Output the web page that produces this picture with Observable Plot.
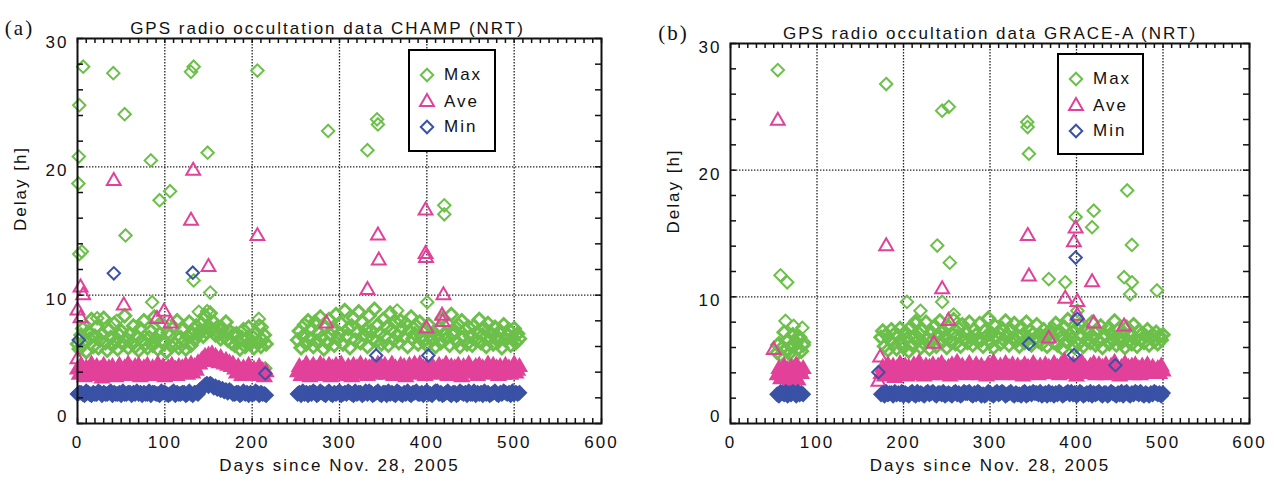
<!DOCTYPE html>
<html><head><meta charset="utf-8">
<script src="https://cdn.jsdelivr.net/npm/d3@7"></script>
<script src="https://cdn.jsdelivr.net/npm/@observablehq/plot@0.6"></script>
<style>
body{margin:0;background:#fff;}
#wrap{position:relative;width:1274px;height:482px;overflow:hidden;}
.panel{position:absolute;top:0;}
.legend{position:absolute;background:#fff;border:2px solid #000;box-sizing:border-box;font-family:"Liberation Sans",Arial,sans-serif;font-size:17px;letter-spacing:2px;color:#111;}
.legend .lab{position:absolute;line-height:20px;}
.legend svg{position:absolute;overflow:visible;}
</style></head>
<body><div id="wrap"></div>
<script>
// ---------- data ----------
const xTicks = [0,100,200,300,400,500,600];
const yTicks = [0,10,20,30];
const seriesNames = ["Max","Ave","Min"];

// Panel (a) CHAMP: daily statistics, every 2nd day
const daysA1 = d3.range(0, 217, 2);
const maxA1 = [6.2,5.8,6.9,7.4,6.4,5.6,7.1,6.6,8.1,6.0,
6.8,7.5,5.9,6.5,7.0,8.2,6.3,5.7,7.3,6.7,
6.1,7.8,6.4,5.8,6.9,7.2,6.2,8.4,6.6,5.9,
7.0,6.3,7.6,6.0,6.8,5.7,7.4,6.5,8.0,6.2,
5.9,6.7,7.2,6.1,8.3,6.6,5.8,7.0,6.4,7.7,
6.3,5.6,7.1,6.9,6.0,7.5,6.2,8.0,5.9,6.7,
7.3,6.4,5.8,6.8,7.9,6.1,7.0,6.5,7.6,6.9,
7.2,7.8,6.8,8.4,7.1,7.6,8.6,7.3,7.9,6.9,
7.5,7.0,6.6,7.4,6.8,7.9,6.5,7.2,6.3,6.9,
6.1,7.0,6.4,5.8,6.7,7.3,6.0,6.6,7.5,6.2,
6.8,5.9,7.1,6.3,7.6,6.0,6.5,6.9,6.2];
const aveA1 = [4.2,3.8,4.5,4.0,3.6,4.3,4.1,3.9,4.6,3.7,
4.0,4.4,3.8,4.2,3.5,4.5,4.1,3.9,4.3,3.7,
4.4,4.0,3.6,4.2,4.5,3.8,4.1,4.3,3.9,4.6,
3.7,4.2,4.0,4.4,3.8,4.5,3.6,4.1,4.3,3.9,
4.5,4.0,3.7,4.3,4.1,3.8,4.6,4.2,3.9,4.4,
3.6,4.1,4.3,3.8,4.5,4.0,4.2,3.7,4.4,3.9,
4.3,4.0,4.5,3.8,4.2,4.6,3.9,4.4,4.1,4.7,
4.6,4.9,5.0,5.2,4.8,5.3,5.1,5.4,4.9,5.2,
5.0,4.7,5.1,4.8,4.6,4.9,4.5,4.7,4.4,4.6,
4.2,3.9,4.4,4.1,3.7,4.3,4.0,3.8,4.5,4.1,
3.8,4.2,4.0,3.7,4.4,3.9,4.1,3.6,4.0];
const minA1 = [2.3,2.4,2.4,2.3,2.2,2.5,2.4,2.3,2.2,2.4,
2.3,2.3,2.5,2.4,2.2,2.4,2.3,2.3,2.4,2.5,
2.2,2.4,2.3,2.3,2.4,2.2,2.5,2.3,2.3,2.4,
2.4,2.2,2.4,2.3,2.5,2.3,2.4,2.2,2.4,2.3,
2.3,2.5,2.2,2.4,2.4,2.3,2.3,2.2,2.5,2.4,
2.4,2.3,2.2,2.3,2.4,2.5,2.2,2.4,2.3,2.3,
2.4,2.4,2.2,2.3,2.5,2.3,2.2,2.4,2.4,2.3,
2.6,2.7,2.8,3.0,3.1,2.9,3.1,3.0,2.8,2.9,
2.7,2.8,2.6,2.7,2.5,2.6,2.4,2.6,2.5,2.3,
2.3,2.4,2.4,2.2,2.3,2.5,2.3,2.4,2.2,2.4,
2.3,2.3,2.5,2.4,2.2,2.4,2.3,2.3,2.2];
const daysA2 = d3.range(252, 507, 2);
const maxA2 = [6.5,7.2,5.9,6.8,7.7,6.2,8.0,6.6,7.4,6.0,
7.9,6.4,7.1,8.3,6.7,5.8,7.5,6.3,8.1,6.9,
7.3,6.1,8.5,6.6,7.0,7.8,6.2,8.8,6.8,7.4,
5.9,7.6,8.2,6.5,7.1,8.7,6.3,7.9,6.9,7.3,
6.0,8.4,7.2,6.6,8.9,6.4,7.7,7.0,6.2,8.1,
6.8,7.5,6.1,8.6,7.3,6.5,7.9,6.9,6.3,8.0,
7.4,6.7,7.8,6.0,7.2,8.3,6.6,7.0,7.6,6.2,
7.9,6.8,6.4,7.3,6.1,7.7,6.9,6.5,7.1,6.0,
6.8,7.4,6.3,8.2,7.0,6.6,7.8,6.1,8.5,6.9,
7.2,6.4,7.7,6.0,8.0,6.7,7.3,6.2,7.5,6.8,
6.1,7.6,6.5,7.1,8.1,6.3,6.9,7.4,6.0,7.8,
6.6,7.0,6.2,7.5,6.8,6.4,7.2,5.9,7.7,6.5,
6.9,7.3,6.1,6.7,7.4,6.3,7.0,6.6];
const aveA2 = [4.0,4.4,3.7,4.2,3.9,4.6,4.1,3.6,4.3,4.5,
3.8,4.2,4.0,4.6,3.7,4.4,4.1,3.9,4.5,3.6,
4.3,4.0,4.5,3.8,4.2,4.6,3.9,4.1,3.7,4.4,
4.2,3.6,4.5,4.0,4.3,3.8,4.6,4.1,3.9,4.4,
3.7,4.3,4.0,4.5,3.8,4.2,4.6,3.9,4.4,4.1,
4.5,3.8,4.2,4.0,4.6,3.7,4.3,4.1,3.9,4.5,
4.0,4.4,3.6,4.2,4.5,3.9,4.1,4.6,3.8,4.3,
4.6,4.0,4.3,3.7,4.4,4.1,3.9,4.5,4.2,3.8,
4.1,4.5,3.9,4.3,4.0,4.6,3.7,4.2,4.4,3.9,
4.3,3.8,4.5,4.1,3.6,4.4,4.2,3.9,4.6,4.0,
3.9,4.2,4.4,3.7,4.5,4.0,4.3,3.8,4.1,4.6,
4.2,3.9,4.5,4.0,4.3,3.7,4.4,4.1,3.8,4.5,
4.0,4.3,3.8,4.2,4.6,3.9,4.1,4.4];
const minA2 = [2.3,2.4,2.2,2.5,2.3,2.4,2.2,2.4,2.3,2.5,
2.4,2.2,2.3,2.5,2.4,2.3,2.2,2.4,2.5,2.3,
2.2,2.4,2.3,2.4,2.5,2.2,2.3,2.4,2.3,2.5,
2.4,2.3,2.2,2.5,2.3,2.4,2.4,2.2,2.3,2.5,
2.3,2.5,2.4,2.2,2.3,2.4,2.5,2.3,2.2,2.4,
2.4,2.2,2.5,2.3,2.4,2.3,2.2,2.5,2.4,2.3,
2.2,2.4,2.3,2.5,2.3,2.2,2.4,2.4,2.5,2.3,
2.3,2.4,2.2,2.4,2.5,2.3,2.3,2.2,2.4,2.5,
2.5,2.3,2.4,2.2,2.3,2.4,2.5,2.3,2.2,2.4,
2.4,2.2,2.3,2.5,2.4,2.3,2.4,2.2,2.5,2.3,
2.3,2.5,2.2,2.4,2.3,2.4,2.2,2.5,2.3,2.4,
2.2,2.3,2.4,2.5,2.3,2.2,2.4,2.3,2.5,2.4,
2.3,2.4,2.2,2.5,2.3,2.4,2.3,2.4];
// Panel (a) isolated points [day, hours]
const maxOutA = [[6.5,27.8],[41,27.3],[2,24.8],[54,24.1],[1.5,20.8],[84,20.5],[1,18.7],[106,18.1],[94,17.4],[55,14.65],
[130,27.4],[133,27.8],[206,27.5],[149,21.1],[287,22.8],[343,23.7],[344,23.3],[332,21.3],[420,17.0],[420,16.3],
[5,13.4],[2,13.2],[133,11.15],[152,10.2],[85.5,9.45],[22.5,8.2],[45,8.0],[139,8.7],[148.5,8.75],[179,7.0],
[207.6,8.15],[211,7.5],[215,4.3],[400.5,9.45],[366,8.8]];
const aveOutA = [[41.5,18.9],[132.5,19.7],[130,15.8],[206,14.6],[398.5,16.6],[344,14.65],[345,12.7],[398.5,13.2],[399,12.9],
[332,10.4],[419,10.0],[417.5,8.4],[418,7.9],[285,7.8],[399.6,7.4],[150,12.2],[3.5,10.6],[6.5,10.0],[0,8.8],[3.5,8.2],
[53,9.2],[91,8.15],[106.5,7.8],[99,8.7],[0,5.0]];
const minOutA = [[41.6,11.7],[132,11.75],[1.5,6.5],[215,3.9],[342,5.3],[401.6,5.3]];

// Panel (b) GRACE-A
const daysB1 = d3.range(54, 85, 2);
const maxB1 = [5.6,6.3,5.4,6.0,7.2,5.8,6.6,5.5,6.1,7.0,5.3,6.4,5.9,6.8,5.7,6.2];
const aveB1 = [3.8,4.3,3.5,4.1,4.5,3.7,4.2,3.3,4.4,3.6,4.0,4.6,3.4,4.2,3.9,4.3];
const minB1 = [2.3,2.2,2.5,2.4,2.3,2.5,2.2,2.4,2.3,2.5,2.4,2.2,2.5,2.3,2.4,2.3];
const daysB2 = d3.range(174, 501, 2);
const maxB2 = [6.8,7.3,6.1,7.0,5.8,6.6,7.4,6.3,7.1,5.9,
6.9,7.5,6.4,6.0,7.2,6.7,5.7,7.6,6.2,6.8,
7.9,6.5,7.1,6.0,7.4,6.3,8.0,6.7,5.9,7.2,
6.6,7.7,6.1,7.0,8.1,6.4,7.3,6.8,6.0,7.6,
6.5,7.1,8.2,6.3,6.9,7.5,6.1,7.8,6.7,7.2,
6.4,8.0,6.8,6.2,7.4,7.0,6.5,7.9,6.6,6.1,
7.3,6.9,8.3,6.4,7.1,6.0,7.7,6.8,7.2,6.3,
7.5,6.6,8.1,7.0,6.2,7.4,6.7,7.9,6.5,6.9,
6.1,7.6,7.0,6.4,8.0,6.8,7.3,6.2,7.1,6.6,
7.8,6.5,7.0,6.3,7.4,6.9,6.1,7.2,6.7,7.5,
6.4,7.9,6.2,7.3,6.8,5.9,7.6,6.5,8.2,7.0,
6.7,7.2,6.0,7.5,6.3,7.8,6.9,6.1,7.4,6.6,
7.1,6.4,8.0,6.8,6.2,7.3,6.5,7.7,6.0,7.0,
6.9,7.5,6.3,7.1,6.6,8.1,6.2,7.4,6.8,6.4,
7.2,6.0,7.6,6.5,7.0,6.3,7.8,6.7,6.1,7.3,
6.6,7.1,6.4,6.9,7.4,6.2,6.8,7.0,6.5,7.2,
6.3,6.9,6.6,7.0];
const aveB2 = [3.9,4.4,3.7,4.2,4.6,3.8,4.1,4.5,3.6,4.3,
4.0,4.7,3.9,4.2,4.5,3.7,4.4,4.1,3.8,4.6,
4.2,3.9,4.8,4.0,4.3,3.7,4.5,4.1,4.4,3.8,
4.6,4.2,3.9,4.5,4.0,4.7,3.8,4.3,4.1,4.4,
3.7,4.6,4.2,4.0,4.8,3.9,4.3,4.5,4.1,3.8,
4.4,4.7,4.0,4.2,3.9,4.6,4.3,3.8,4.5,4.1,
4.2,3.7,4.6,4.4,4.0,4.8,3.9,4.3,4.1,4.5,
3.8,4.2,4.7,4.0,4.4,3.9,4.6,4.2,3.8,4.5,
4.1,4.3,3.7,4.6,4.0,4.4,4.2,3.9,4.7,4.1,
4.3,3.8,4.5,4.2,4.0,4.6,3.9,4.4,4.1,4.3,
4.7,4.0,4.4,3.8,4.6,4.2,4.9,4.1,3.9,4.5,
4.0,4.6,4.3,3.7,4.5,4.1,4.8,3.9,4.4,4.2,
3.9,4.5,4.1,4.7,3.8,4.3,4.6,4.0,4.4,3.8,
4.6,4.2,3.9,4.5,4.1,4.8,4.0,4.3,3.7,4.4,
4.2,4.7,3.9,4.4,4.0,4.5,3.8,4.6,4.1,4.3,
3.8,4.5,4.2,4.0,4.6,4.1,3.9,4.4,4.2,4.0,
4.3,3.9,4.5,4.1];
const minB2 = [2.3,2.4,2.2,2.5,2.3,2.4,2.4,2.2,2.5,2.3,
2.4,2.3,2.5,2.2,2.4,2.3,2.2,2.4,2.5,2.3,
2.2,2.5,2.3,2.4,2.3,2.2,2.4,2.5,2.3,2.4,
2.5,2.3,2.2,2.4,2.4,2.3,2.5,2.2,2.3,2.4,
2.3,2.2,2.4,2.5,2.3,2.4,2.2,2.3,2.5,2.4,
2.4,2.5,2.3,2.2,2.4,2.3,2.5,2.4,2.2,2.3,
2.2,2.3,2.5,2.4,2.3,2.2,2.4,2.5,2.3,2.4,
2.5,2.4,2.2,2.3,2.4,2.5,2.3,2.2,2.4,2.3,
2.3,2.2,2.4,2.5,2.2,2.3,2.4,2.3,2.5,2.4,
2.4,2.3,2.5,2.2,2.3,2.4,2.2,2.5,2.3,2.4,
2.2,2.4,2.3,2.5,2.4,2.2,2.3,2.4,2.5,2.3,
2.5,2.3,2.4,2.2,2.3,2.5,2.4,2.2,2.3,2.4,
2.3,2.5,2.2,2.4,2.3,2.4,2.5,2.3,2.2,2.4,
2.4,2.2,2.3,2.5,2.4,2.3,2.2,2.4,2.3,2.5,
2.2,2.4,2.5,2.3,2.2,2.4,2.3,2.5,2.4,2.3,
2.5,2.3,2.2,2.4,2.3,2.2,2.4,2.3,2.5,2.4,
2.3,2.4,2.2,2.4];
const maxOutB = [[54.7,27.9],[180,26.8],[244.7,24.7],[252.4,25.0],[343,23.8],[343.5,23.4],[345,21.3],[458.6,18.4],[420,16.8],[399,16.3],
[418,15.5],[57.8,11.7],[65.5,11.15],[239,14.05],[253.5,12.7],[244.7,9.6],[204,9.6],[219.6,8.9],[214,8.1],[258,8.6],
[63.6,8.1],[73,7.7],[83,7.55],[77,6.8],[85,6.4],[54,6.2],[464,14.1],[368,11.4],[387,11.15],[455,11.55],
[464,11.15],[462,10.2],[493,10.5],[401,8.9]];
const aveOutB = [[54.7,23.9],[180,14.0],[244.7,10.6],[252,8.1],[50,5.8],[173,5.2],[171,3.3],[235,6.3],[343.7,14.8],[399,15.4],
[345,11.6],[397,14.3],[418,11.15],[387,9.85],[401,9.6],[401,8.5],[455,7.65],[420,7.9],[368,6.7]];
const minOutB = [[399,13.1],[401,8.26],[345,6.3],[397,5.4],[445,4.6],[171,4.05]];

// ---------- styling ----------
const GREEN = "#6cc04a", PINK = "#e2419a", BLUE = "#3a52a5";
const FONT = "Liberation Sans, Arial, Helvetica, sans-serif";

function rows(days, vals) { return days.map((d,i)=>({day:d, v:vals[i]})).filter(r=>r.v!=null); }
function outs(list) { return list.map(([d,v])=>({day:d, v})); }

function panel(cfg) {
  const W = 637, H = 482, mb = 59;
  const innerW = W - cfg.ml - cfg.mr, innerH = H - cfg.mt - mb;
  const maxD = cfg.dense.flatMap(s=>rows(s.days, s.max));
  const aveD = cfg.dense.flatMap(s=>rows(s.days, s.ave));
  const minD = cfg.dense.flatMap(s=>rows(s.days, s.min));
  const xMinor = d3.range(0, 601, 10), yMinor = d3.range(0, 31, 2);
  const txt = {fontSize: 17, fill: "#111", fontFamily: FONT};
  const dia = {x: "day", y: "v", symbol: "diamond2", r: 5.6};
  const tri = {x: "day", y: "v", symbol: "triangle2", r: 6.6};
  return Plot.plot({
    width: W, height: H, marginLeft: cfg.ml, marginRight: cfg.mr, marginTop: cfg.mt, marginBottom: mb,
    x: {domain: [0, 600], axis: null}, y: {domain: [0, 30], axis: null},
    style: {fontFamily: FONT, letterSpacing: "2px", background: "#fff", overflow: "visible"},
    marks: [
      Plot.ruleX(xTicks.slice(1, -1), {stroke: "#222", strokeWidth: 1.3, strokeDasharray: "1.4,1.6"}),
      Plot.ruleY(yTicks.slice(1, -1), {stroke: "#222", strokeWidth: 1.3, strokeDasharray: "1.4,1.6"}),
      Plot.dot(maxD, {...dia, stroke: GREEN, strokeWidth: 2.9, fill: "none"}),
      Plot.dot(outs(cfg.maxOut), {...dia, stroke: GREEN, strokeWidth: 2, fill: "none"}),
      Plot.dot(aveD, {...tri, stroke: PINK, strokeWidth: 2, fill: PINK}),
      Plot.dot(outs(cfg.aveOut), {...tri, stroke: PINK, strokeWidth: 2, fill: "none"}),
      Plot.dot(minD, {...dia, r: 6, stroke: BLUE, strokeWidth: 2, fill: BLUE}),
      Plot.dot(outs(cfg.minOut), {...dia, stroke: BLUE, strokeWidth: 2, fill: "none"}),
      Plot.frame({stroke: "#111", strokeWidth: 2}),
      Plot.tickX(xMinor, {x: d=>d, insetTop: innerH - 5, stroke: "#111", strokeWidth: 1.5}),
      Plot.tickX(xMinor, {x: d=>d, insetBottom: innerH - 5, stroke: "#111", strokeWidth: 1.5}),
      Plot.tickY(yMinor, {y: d=>d, insetRight: innerW - 6, stroke: "#111", strokeWidth: 1.5}),
      Plot.tickY(yMinor, {y: d=>d, insetLeft: innerW - 6, stroke: "#111", strokeWidth: 1.5}),
      Plot.text(xTicks, {x: d=>d, text: d=>String(d), frameAnchor: "bottom", dy: 24, ...txt}),
      Plot.text(yTicks.filter(d=>d>0), {y: d=>d, text: d=>String(d), frameAnchor: "left", dx: -9, dy: 4, textAnchor: "end", ...txt}),
      Plot.text(yTicks.filter(d=>d===0), {y: d=>d, text: d=>String(d), frameAnchor: "left", dx: -9, dy: -7, textAnchor: "end", ...txt}),
      Plot.text([cfg.title], {text: d=>d, frameAnchor: "top", dx: cfg.titleDx, dy: -17, ...txt}),
      Plot.text(["Days since Nov. 28, 2005"], {text: d=>d, frameAnchor: "bottom", dy: 47, ...txt}),
      Plot.text(["Delay [h]"], {text: d=>d, frameAnchor: "left", rotate: -90, dx: -57, ...txt}),
      Plot.text([cfg.tag], {text: d=>d, frameAnchor: "top-left", dx: cfg.tagDx, dy: -18, fontSize: 21, fontFamily: "Liberation Serif, Times New Roman, serif", fill: "#111", textAnchor: "middle"})
    ]
  });
}

function legend(left, top, w, h) {
  const div = document.createElement("div");
  div.className = "legend";
  Object.assign(div.style, {left: left + "px", top: top + "px", width: w + "px", height: h + "px"});
  const syms = [[d3.symbolDiamond2, 5.6, GREEN], [d3.symbolTriangle2, 6.6, PINK], [d3.symbolDiamond2, 5.6, BLUE]];
  const rowY = [24, 51, 76];
  seriesNames.forEach((name, i) => {
    const [sym, r, color] = syms[i];
    const s = d3.create("svg").attr("width", 20).attr("height", 20)
      .style("left", "7px").style("top", (rowY[i] - 10) + "px");
    s.append("path").attr("transform", "translate(10,10)")
      .attr("d", d3.symbol(sym, Math.PI * r * r)()).attr("fill", "none")
      .attr("stroke", color).attr("stroke-width", 2);
    div.appendChild(s.node());
    const lab = document.createElement("div");
    lab.className = "lab"; lab.textContent = name;
    Object.assign(lab.style, {left: "34px", top: (rowY[i] - 10) + "px"});
    div.appendChild(lab);
  });
  return div;
}

const wrap = document.getElementById("wrap");
const pa = panel({
  ml: 77, mr: 36, mt: 38, titleDx: -12, tag: "(a)", tagDx: -58,
  title: "GPS radio occultation data CHAMP (NRT)",
  dense: [{days: daysA1, max: maxA1, ave: aveA1, min: minA1}, {days: daysA2, max: maxA2, ave: aveA2, min: minA2}],
  maxOut: maxOutA, aveOut: aveOutA, minOut: minOutA
});
pa.classList.add("panel"); pa.style.left = "0px";
wrap.appendChild(pa);
const pb = panel({
  ml: 93, mr: 25, mt: 43, titleDx: 0, tag: "(b)", tagDx: -57,
  title: "GPS radio occultation data GRACE-A (NRT)",
  dense: [{days: daysB1, max: maxB1, ave: aveB1, min: minB1}, {days: daysB2, max: maxB2, ave: aveB2, min: minB2}],
  maxOut: maxOutB, aveOut: aveOutB, minOut: minOutB
});
pb.classList.add("panel"); pb.style.left = "637px";
wrap.appendChild(pb);
wrap.appendChild(legend(408, 49, 88, 103));
wrap.appendChild(legend(1057, 53, 87, 102));
</script>
</body></html>
